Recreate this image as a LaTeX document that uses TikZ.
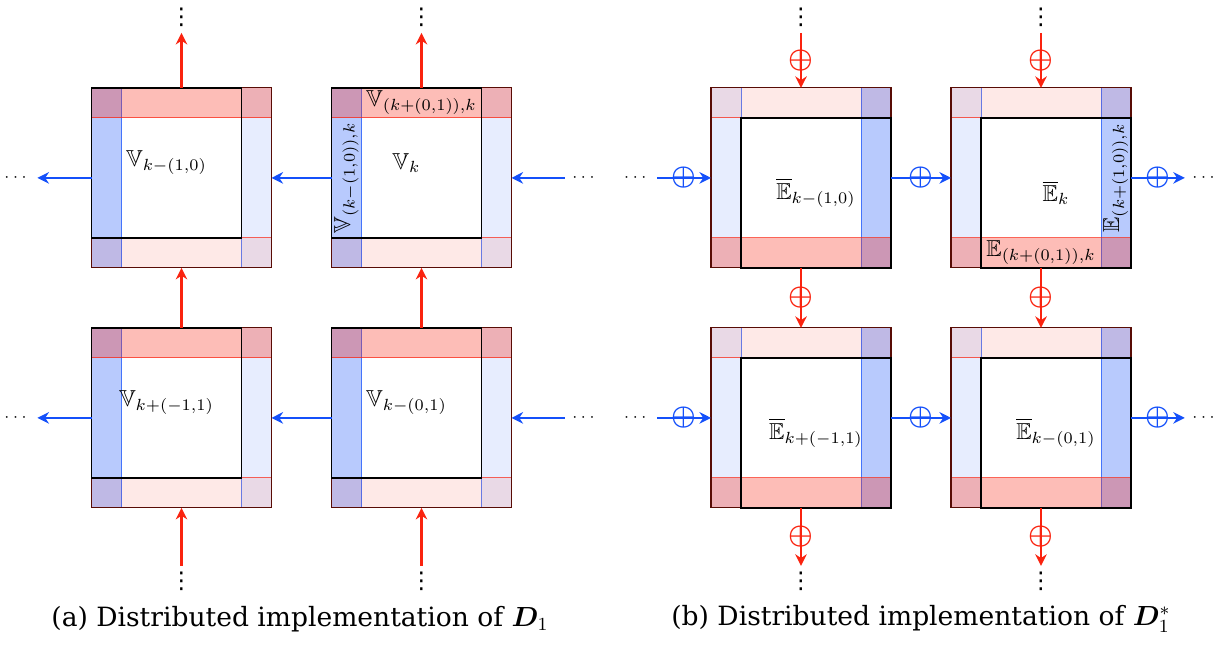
\documentclass[tikz,border=0pt]{standalone}
\usepackage{amsmath,amssymb,bm}
\usepackage{fontspec}
\newfontfamily\capfont{DejaVu Serif}
\newfontfamily\symfont{DejaVu Sans}
\usetikzlibrary{arrows.meta,positioning}
\definecolor{flowred}{RGB}{250,35,15}
\definecolor{flowblue}{RGB}{20,80,250}
\tikzset{
  strong/.style={fill opacity=0.3,draw opacity=0.7,line width=0.4pt},
  weak/.style={fill opacity=0.1,draw opacity=0.7,line width=0.4pt},
  rim/.style={draw=flowred!35!black,line width=0.5pt},
  own/.style={draw=black,thick},
  cell/.style={rectangle,minimum size=78pt,inner sep=0pt,outer sep=0pt},
  vdot/.style={font=\symfont,inner sep=2.5pt},
  hdot/.style={font=\scriptsize,inner sep=3pt},
  caption/.style={font=\capfont\fontsize{11.5}{13}\selectfont,inner sep=0pt},
  redflow/.style={draw=flowred,line width=0.9pt,-{Stealth[length=5pt,width=5pt]}},
  blueflow/.style={draw=flowblue,line width=0.9pt,-{Stealth[length=5pt,width=5pt]}},
  plusred/.style={text=flowred,font=\large,inner sep=0pt},
  plusblue/.style={text=flowblue,font=\large,inner sep=0pt}
}
\begin{document}
\begin{tikzpicture}[x=13pt,y=13pt]
  \useasboundingbox (0,0) rectangle (40.9,21.53);
  % (a) own square top left
  \foreach \x/\y/\n in {3.05/12.6/a11,11.05/12.6/a12,3.05/4.6/a21,11.05/4.6/a22}{
    \draw[strong,draw=flowblue,fill=flowblue] (\x,\y) rectangle ++(1,6);
    \draw[weak,draw=flowblue,fill=flowblue] (\x+5,\y) rectangle ++(1,6);
    \draw[strong,draw=flowred,fill=flowred] (\x,\y+5) rectangle ++(6,1);
    \draw[weak,draw=flowred,fill=flowred] (\x,\y) rectangle ++(6,1);
    \draw[rim] (\x,\y) rectangle ++(6,6);
    \draw[own] (\x,\y+1) rectangle ++(5,5);
    \node[cell] (\n) at (\x+3,\y+3) {};
  }
  % (b) own square bottom right
  \foreach \x/\y/\n in {23.7/12.6/b11,31.7/12.6/b12,23.7/4.6/b21,31.7/4.6/b22}{
    \draw[weak,draw=flowblue,fill=flowblue] (\x,\y) rectangle ++(1,6);
    \draw[strong,draw=flowblue,fill=flowblue] (\x+5,\y) rectangle ++(1,6);
    \draw[weak,draw=flowred,fill=flowred] (\x,\y+5) rectangle ++(6,1);
    \draw[strong,draw=flowred,fill=flowred] (\x,\y) rectangle ++(6,1);
    \draw[rim] (\x,\y) rectangle ++(6,6);
    \draw[own] (\x+1,\y) rectangle ++(5,5);
    \node[cell] (\n) at (\x+3,\y+3) {};
  }

  \node (la11) at (5.55,16.1) {$\mathbb{V}_{k-(1,0)}$};
  \node (la12) at (13.55,16.1) {$\mathbb{V}_k$};
  \node (la21) at (5.55,8.1) {$\mathbb{V}_{k+(-1,1)}$};
  \node (la22) at (13.55,8.1) {$\mathbb{V}_{k-(0,1)}$};
  \node[inner sep=0pt] (latop) at (14.05,18.1) {$\mathbb{V}_{(k+(0,1)),k}$};
  \node[inner sep=0pt,rotate=90] (laleft) at (11.55,15.6) {$\mathbb{V}_{(k-(1,0)),k}$};

  \node (lb11) at (27.2,15.1) {$\overline{\mathbb{E}}_{k-(1,0)}$};
  \node (lb12) at (35.2,15.1) {$\overline{\mathbb{E}}_k$};
  \node (lb21) at (27.2,7.1) {$\overline{\mathbb{E}}_{k+(-1,1)}$};
  \node (lb22) at (35.2,7.1) {$\overline{\mathbb{E}}_{k-(0,1)}$};
  \node[inner sep=0pt] (lbbot) at (34.7,13.1) {$\mathbb{E}_{(k+(0,1)),k}$};
  \node[inner sep=0pt,rotate=90] (lbright) at (37.2,15.6) {$\mathbb{E}_{(k+(1,0)),k}$};

  % dots
  \node[vdot] (ua1) at (6.05,20.95) {⋮};
  \node[vdot] (ua2) at (14.05,20.95) {⋮};
  \node[vdot] (da1) at (6.05,2.15) {⋮};
  \node[vdot] (da2) at (14.05,2.15) {⋮};
  \node[hdot] (wa1) at (0.57,15.6) {$\cdots$};
  \node[hdot] (wa2) at (0.57,7.6) {$\cdots$};
  \node[hdot] (ea1) at (19.5,15.6) {$\cdots$};
  \node[hdot] (ea2) at (19.5,7.6) {$\cdots$};
  \node[vdot] (ub1) at (26.7,20.95) {⋮};
  \node[vdot] (ub2) at (34.7,20.95) {⋮};
  \node[vdot] (db1) at (26.7,2.15) {⋮};
  \node[vdot] (db2) at (34.7,2.15) {⋮};
  \node[hdot] (wb1) at (21.23,15.6) {$\cdots$};
  \node[hdot] (wb2) at (21.23,7.6) {$\cdots$};
  \node[hdot] (eb1) at (40.17,15.6) {$\cdots$};
  \node[hdot] (eb2) at (40.17,7.6) {$\cdots$};

  % (a) flows
  \draw[redflow] (a11) -- (ua1);
  \draw[redflow] (a12) -- (ua2);
  \draw[redflow] (a21) -- (a11);
  \draw[redflow] (a22) -- (a12);
  \draw[redflow] (da1) -- (a21);
  \draw[redflow] (da2) -- (a22);
  \draw[blueflow] (a11) -- (wa1);
  \draw[blueflow] (a21) -- (wa2);
  \draw[blueflow] (a12) -- (a11);
  \draw[blueflow] (a22) -- (a21);
  \draw[blueflow] (ea1) -- (a12);
  \draw[blueflow] (ea2) -- (a22);

  % (b) flows
  \draw[redflow] (ub1) -- node[plusred] {$\boldsymbol{\oplus}$} (b11);
  \draw[redflow] (ub2) -- node[plusred] {$\boldsymbol{\oplus}$} (b12);
  \draw[redflow] (b11) -- node[plusred] {$\boldsymbol{\oplus}$} (b21);
  \draw[redflow] (b12) -- node[plusred] {$\boldsymbol{\oplus}$} (b22);
  \draw[redflow] (b21) -- node[plusred] {$\boldsymbol{\oplus}$} (db1);
  \draw[redflow] (b22) -- node[plusred] {$\boldsymbol{\oplus}$} (db2);
  \draw[blueflow] (wb1) -- node[plusblue] {$\boldsymbol{\oplus}$} (b11);
  \draw[blueflow] (wb2) -- node[plusblue] {$\boldsymbol{\oplus}$} (b21);
  \draw[blueflow] (b11) -- node[plusblue] {$\boldsymbol{\oplus}$} (b12);
  \draw[blueflow] (b21) -- node[plusblue] {$\boldsymbol{\oplus}$} (b22);
  \draw[blueflow] (b12) -- node[plusblue] {$\boldsymbol{\oplus}$} (eb1);
  \draw[blueflow] (b22) -- node[plusblue] {$\boldsymbol{\oplus}$} (eb2);

  \node[caption] (capa) at (10,0.9) {(a) Distributed implementation of $\boldsymbol{D}_1$};
  \node[caption] (capb) at (30.7,0.9) {(b) Distributed implementation of $\boldsymbol{D}_1^*$};
\end{tikzpicture}
\end{document}
